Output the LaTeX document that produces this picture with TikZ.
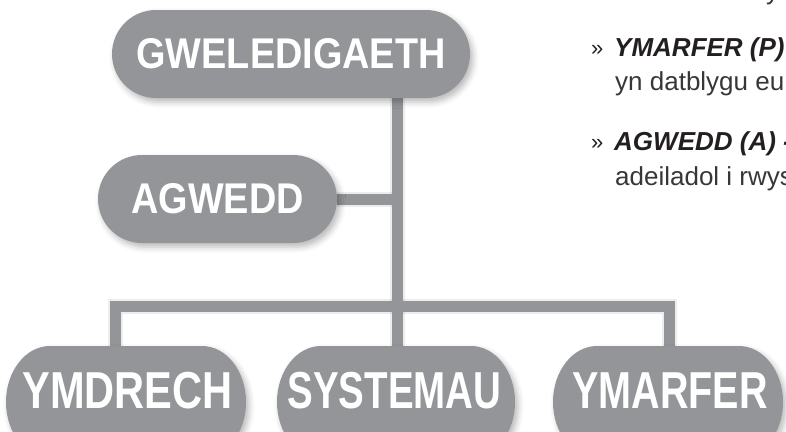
\documentclass[tikz,border=0pt]{standalone}
\usepackage{fontspec}
\setmainfont{Liberation Sans}
\usetikzlibrary{shadows.blur}
\pgfdeclarelayer{bg}
\pgfsetlayers{bg,main}
\definecolor{boxgrey}{RGB}{147,149,152}
\definecolor{textdark}{RGB}{35,31,32}
\definecolor{textreg}{RGB}{55,55,58}
\newcommand{\toplabel}[1]{\fontsize{43}{43}\selectfont\bfseries\scalebox{0.88}[1]{#1}}
\newcommand{\botlabel}[2]{\fontsize{52}{52}\selectfont\bfseries\scalebox{#1}[1]{#2}}
\newcommand{\bodytext}{\fontsize{26}{26}\selectfont}
\begin{document}
\begin{tikzpicture}[x=1pt,y=-1pt,
  softshadow/.style={blur shadow={shadow xshift=3pt, shadow yshift=-4pt, shadow blur radius=6pt, shadow opacity=28}},
  topbox/.style={fill=boxgrey, rounded corners=44pt, minimum height=88pt, inner sep=0pt, text=white, softshadow},
  botbox/.style={inner sep=0pt, text=white},
  link/.style={draw=boxgrey, line width=11pt},
  linkshadow/.style={draw=black, opacity=0.07, line width=15pt},
  bodyline/.style={anchor=base west, inner sep=0pt, text=textreg},
  headline/.style={anchor=base west, inner sep=0pt, text=textdark},
  bulletmark/.style={anchor=base west, inner sep=0pt, text=textdark}
]
\useasboundingbox (0,0) rectangle (786,431);
\clip (0,0) rectangle (786,431);

% bottom box shapes (stadium shapes, cut by the lower edge)
\fill[boxgrey, softshadow] (50,346) -- (202,346) arc[start angle=90,end angle=-90,x radius=44pt,y radius=56pt] -- (50,458) arc[start angle=270,end angle=90,x radius=44pt,y radius=56pt] -- cycle;
\fill[boxgrey, softshadow] (321,346) -- (471,346) arc[start angle=90,end angle=-90,x radius=44pt,y radius=56pt] -- (321,458) arc[start angle=270,end angle=90,x radius=44pt,y radius=56pt] -- cycle;
\fill[boxgrey, softshadow] (597,346) -- (739,346) arc[start angle=90,end angle=-90,x radius=44pt,y radius=56pt] -- (597,458) arc[start angle=270,end angle=90,x radius=44pt,y radius=56pt] -- cycle;

% nodes
\node[topbox, minimum width=358pt] (gw) at (291,54) {\toplabel{GWELEDIGAETH}};
\node[topbox, minimum width=239pt] (ag) at (217.5,199) {\toplabel{AGWEDD}};
\node[botbox] (ym) at (127.5,391) {\botlabel{0.8}{YMDRECH}};
\node[botbox] (sy) at (394.5,391) {\botlabel{0.74}{SYSTEMAU}};
\node[botbox] (yr) at (670,391) {\botlabel{0.76}{YMARFER}};

\coordinate (ymtop) at (115.5,347);
\coordinate (sytop) at (397.5,347);
\coordinate (yrtop) at (669.5,347);
\coordinate (busmid) at (397.5,306);

% connectors
\begin{pgfonlayer}{bg}
  \begin{scope}[shift={(3,4)}]
    \draw[linkshadow] (gw.south -| sytop) -- (sytop);
    \draw[linkshadow] (ag.east) -- (ag.east -| sytop);
    \draw[linkshadow] (ymtop) |- (busmid) -| (yrtop);
  \end{scope}
  \draw[link] (gw.south -| sytop) -- (sytop);
  \draw[link] (ag.east) -- (ag.east -| sytop);
  \draw[link] (ymtop) |- (busmid) -| (yrtop);
\end{pgfonlayer}

% text on the right
\node[bodyline] (t0) at (766,-1) {\bodytext y};
\node[bulletmark] (m1) at (591,55) {\fontsize{22}{22}\selectfont »};
\node[headline] (h1) at (614,56) {\bodytext\bfseries\itshape YMARFER (P)};
\node[bodyline] (l1) at (615,90) {\bodytext yn datblygu eu};
\node[bulletmark] (m2) at (591,149) {\fontsize{22}{22}\selectfont »};
\node[headline] (h2) at (614,150) {\bodytext\bfseries\itshape AGWEDD (A) -};
\node[bodyline] (l2) at (615,185) {\bodytext adeiladol i rwys};
\end{tikzpicture}
\end{document}
